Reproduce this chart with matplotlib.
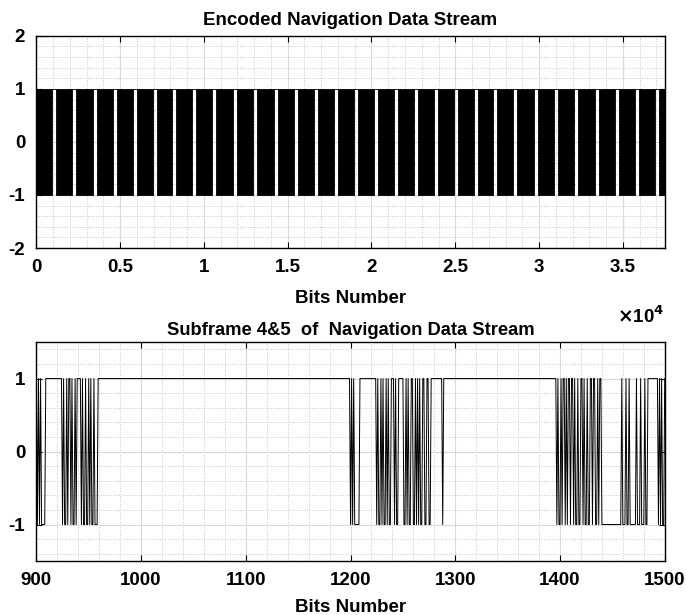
import numpy as np
import matplotlib
matplotlib.use('Agg')
from matplotlib import pyplot as plt
from matplotlib.ticker import MultipleLocator

# whole encoded stream: centres of the long constant (+1) runs
stream_len = 37500
gap_centres = [1067, 2253, 3499, 4685, 5871, 7057, 8243, 9429, 10615, 11860,
               13046, 14291, 15477, 16663, 17909, 19095, 20281, 21467, 22653,
               23839, 25025, 26211, 27397, 28583, 29828, 31014, 32200, 33445,
               34631, 35817, 37063]
gap_width = 240  # same as the 959..1199 run seen in the lower panel

# subframe 4&5 (bits 900..1500): bit numbers where the level flips, start level +1
sub_first, sub_last = 900, 1500
sub_flips = [901, 902, 903, 904, 905, 909,
             925, 926, 927, 929, 930, 931, 933, 934, 935, 937, 938, 939,
             943, 944, 945, 947, 948, 950, 951, 952, 953, 955, 956, 959,
             1200, 1201, 1202, 1203, 1204, 1209,
             1225, 1226, 1227, 1229, 1230, 1231, 1232, 1234, 1235, 1236, 1237,
             1239, 1242, 1243, 1244, 1246,
             1251, 1253, 1254, 1255, 1256, 1258, 1260, 1262, 1263, 1264, 1265,
             1266, 1267, 1269, 1271, 1273, 1275, 1277,
             1288, 1289,
             1397, 1398, 1399, 1401, 1402, 1403, 1405, 1406, 1407, 1408, 1410,
             1411, 1413, 1414, 1415, 1417, 1418, 1420, 1422, 1423, 1424, 1426,
             1427, 1429, 1431, 1432, 1434, 1436, 1437, 1438, 1440,
             1459, 1460, 1463, 1464, 1466, 1467, 1473, 1474, 1477, 1478, 1481,
             1482, 1484, 1494, 1495, 1496, 1497, 1498, 1500]

plt.rcParams['font.family'] = ['Liberation Sans', 'DejaVu Sans']
plt.rcParams['font.weight'] = 'bold'
plt.rcParams['font.size'] = 13.5
plt.rcParams['axes.titleweight'] = 'bold'
plt.rcParams['axes.labelweight'] = 'bold'
plt.rcParams['axes.unicode_minus'] = False


def style(ax):
    ax.grid(True, which='major', color='#d9d9d9', linestyle='-', linewidth=0.8)
    ax.grid(True, which='minor', color='#c8c8c8', linestyle=':', linewidth=0.7)
    ax.set_axisbelow(True)
    ax.tick_params(which='major', direction='in', length=4, top=True, right=True, pad=8)
    ax.tick_params(which='minor', length=0)
    for sp in ax.spines.values():
        sp.set_linewidth(1.0)


fig = plt.figure(figsize=(6.86, 6.15), dpi=100)
ax1 = fig.add_axes([0.053, 0.5967, 0.916, 0.345])
ax2 = fig.add_axes([0.053, 0.0878, 0.916, 0.356])

# top panel
starts = [c - gap_width / 2 for c in gap_centres]
ends = [c + gap_width / 2 for c in gap_centres]
dense = []
prev = 0
for s, e in zip(starts, ends):
    dense.append((prev, s - prev))
    prev = e
dense.append((prev, stream_len - prev))
ax1.broken_barh(dense, (-1, 2), facecolors='k', edgecolor='k', linewidth=0.6)
ax1.hlines([1] * len(starts), starts, ends, colors='k', linewidth=0.6)
ax1.set_xlim(0, stream_len)
ax1.set_ylim(-2, 2)
ax1.set_xticks(np.arange(0, 35001, 5000))
ax1.set_xticklabels(['0', '0.5', '1', '1.5', '2', '2.5', '3', '3.5'])
ax1.set_yticks([-2, -1, 0, 1, 2])
ax1.xaxis.set_minor_locator(MultipleLocator(1000))
ax1.yaxis.set_minor_locator(MultipleLocator(0.2))
style(ax1)
ax1.set_title('Encoded Navigation Data Stream', fontsize=13.5, pad=8)
ax1.set_xlabel('Bits Number', labelpad=10)
ax1.text(1.0, -0.32, r'$\times$10$^\mathbf{4}$', transform=ax1.transAxes,
         ha='right', va='center')

# bottom panel
bit_no = np.arange(sub_first, sub_last + 1)
flips = np.zeros(len(bit_no))
for f in sub_flips:
    flips[f - sub_first] = 1
level = np.where(np.cumsum(flips) % 2 == 1, -1, 1)
ax2.plot(bit_no, level, color='k', linewidth=0.7)
ax2.set_xlim(sub_first, sub_last)
ax2.set_ylim(-1.5, 1.5)
ax2.set_xticks(np.arange(900, 1501, 100))
ax2.set_yticks([-1, 0, 1])
ax2.xaxis.set_minor_locator(MultipleLocator(20))
ax2.yaxis.set_minor_locator(MultipleLocator(0.2))
style(ax2)
ax2.set_title('Subframe 4&5  of  Navigation Data Stream', fontsize=13.2, pad=5)
ax2.set_xlabel('Bits Number', labelpad=7)

fig.savefig('out.png', dpi=100)
